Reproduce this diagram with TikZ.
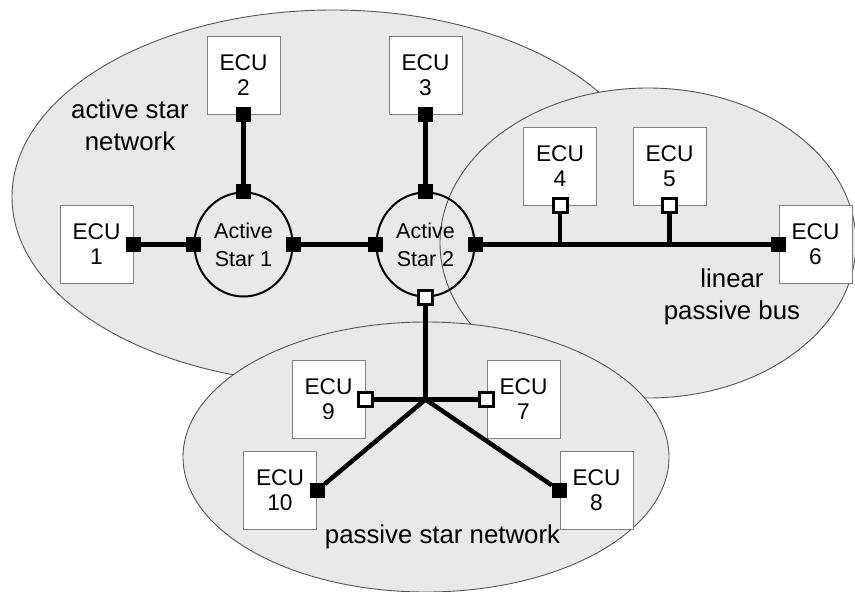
\documentclass[tikz,border=0pt]{standalone}
\usepackage{fontspec}
\setmainfont{Liberation Sans}
\usetikzlibrary{shapes.geometric}
\definecolor{regionfill}{RGB}{233,233,233}
\definecolor{regionedge}{RGB}{85,85,85}
\definecolor{boxedge}{RGB}{128,128,128}
\newcommand\ecufont{\fontsize{22.7}{25}\selectfont}
\newcommand\starfont{\fontsize{21.5}{28}\selectfont}
\newcommand\lblfont{\fontsize{25.8}{32}\selectfont}
\tikzset{
  region/.style={fill=regionfill, draw=regionedge, line width=0.9pt},
  ecu/.style={draw=boxedge, fill=white, line width=1pt, minimum width=73pt, minimum height=78pt, inner sep=0pt, align=center, font=\ecufont},
  astar/.style={ellipse, draw=black, line width=2pt, minimum width=98pt, minimum height=104pt, inner sep=0pt, align=center, font=\starfont},
  term/.style={rectangle, fill=black, minimum size=15pt, inner sep=0pt},
  pterm/.style={rectangle, draw=black, fill=white, line width=3pt, minimum size=14pt, inner sep=0pt},
  bus/.style={draw=black, line width=4.5pt},
  lbl/.style={align=center, font=\lblfont, inner sep=0pt}
}
\begin{document}
\begin{tikzpicture}[x=1pt,y=-1pt]
\useasboundingbox (0,0) rectangle (855,592);
\fill[white] (0,0) rectangle (855,592);
% regions
\draw[region] (333,197) ellipse [x radius=321pt, y radius=187pt];
\draw[region] (648,243) ellipse [x radius=208pt, y radius=155pt];
\draw[region] (426,457) ellipse [x radius=243pt, y radius=135pt];
% labels
\node[lbl] (lab1) at (130,125) {active star\\network};
\node[lbl] (lab2) at (732,297) {linear\\passive bus};
\node[lbl] (lab3) at (442.5,536.5) {passive star network};
% ECUs
\node[ecu] (e1) at (96.5,244.5) {ECU\\1};
\node[ecu] (e2) at (243.5,75) {ECU\\2};
\node[ecu] (e3) at (425.5,75) {ECU\\3};
\node[ecu] (e4) at (560,166) {ECU\\4};
\node[ecu] (e5) at (669.5,166) {ECU\\5};
\node[ecu] (e6) at (815.5,244.5) {ECU\\6};
\node[ecu] (e7) at (523.5,399.5) {ECU\\7};
\node[ecu] (e8) at (596.5,490.5) {ECU\\8};
\node[ecu] (e9) at (328.5,399.5) {ECU\\9};
\node[ecu] (e10) at (280,490.5) {ECU\\10};
% active stars
\node[astar] (s1) at (243.5,244.5) {Active\\Star 1};
\node[astar] (s2) at (425.5,244.5) {Active\\Star 2};
% terminals
\node[term] (t1) at (e1.east) {};
\node[term] (t2) at (e2.south) {};
\node[term] (t3) at (e3.south) {};
\node[pterm] (t4) at (e4.south) {};
\node[pterm] (t5) at (e5.south) {};
\node[term] (t6) at (e6.west) {};
\node[pterm] (t7) at (e7.west) {};
\node[term] (t8) at (e8.west) {};
\node[pterm] (t9) at (e9.east) {};
\node[term] (t10) at (e10.east) {};
\node[term] (s1w) at (s1.west) {};
\node[term] (s1n) at (s1.north) {};
\node[term] (s1e) at (s1.east) {};
\node[term] (s2w) at (s2.west) {};
\node[term] (s2n) at (s2.north) {};
\node[term] (s2e) at (s2.east) {};
\node[pterm] (s2s) at (s2.south) {};
% junctions
\coordinate (b4) at (t4 |- s2e);
\coordinate (b5) at (t5 |- s2e);
\coordinate (j) at (s2s |- t9);
% connectors
\draw[bus] (t1) -- (s1w);
\draw[bus] (t2) -- (s1n);
\draw[bus] (s1e) -- (s2w);
\draw[bus] (t3) -- (s2n);
\draw[bus] (s2e) -- (t6);
\draw[bus] (t4) -- (b4);
\draw[bus] (t5) -- (b5);
\draw[bus] (s2s) -- (j);
\draw[bus] (t9) -- (t7);
\draw[bus, line join=round] (t10) -- (j) -- (t8);
\end{tikzpicture}
\end{document}
